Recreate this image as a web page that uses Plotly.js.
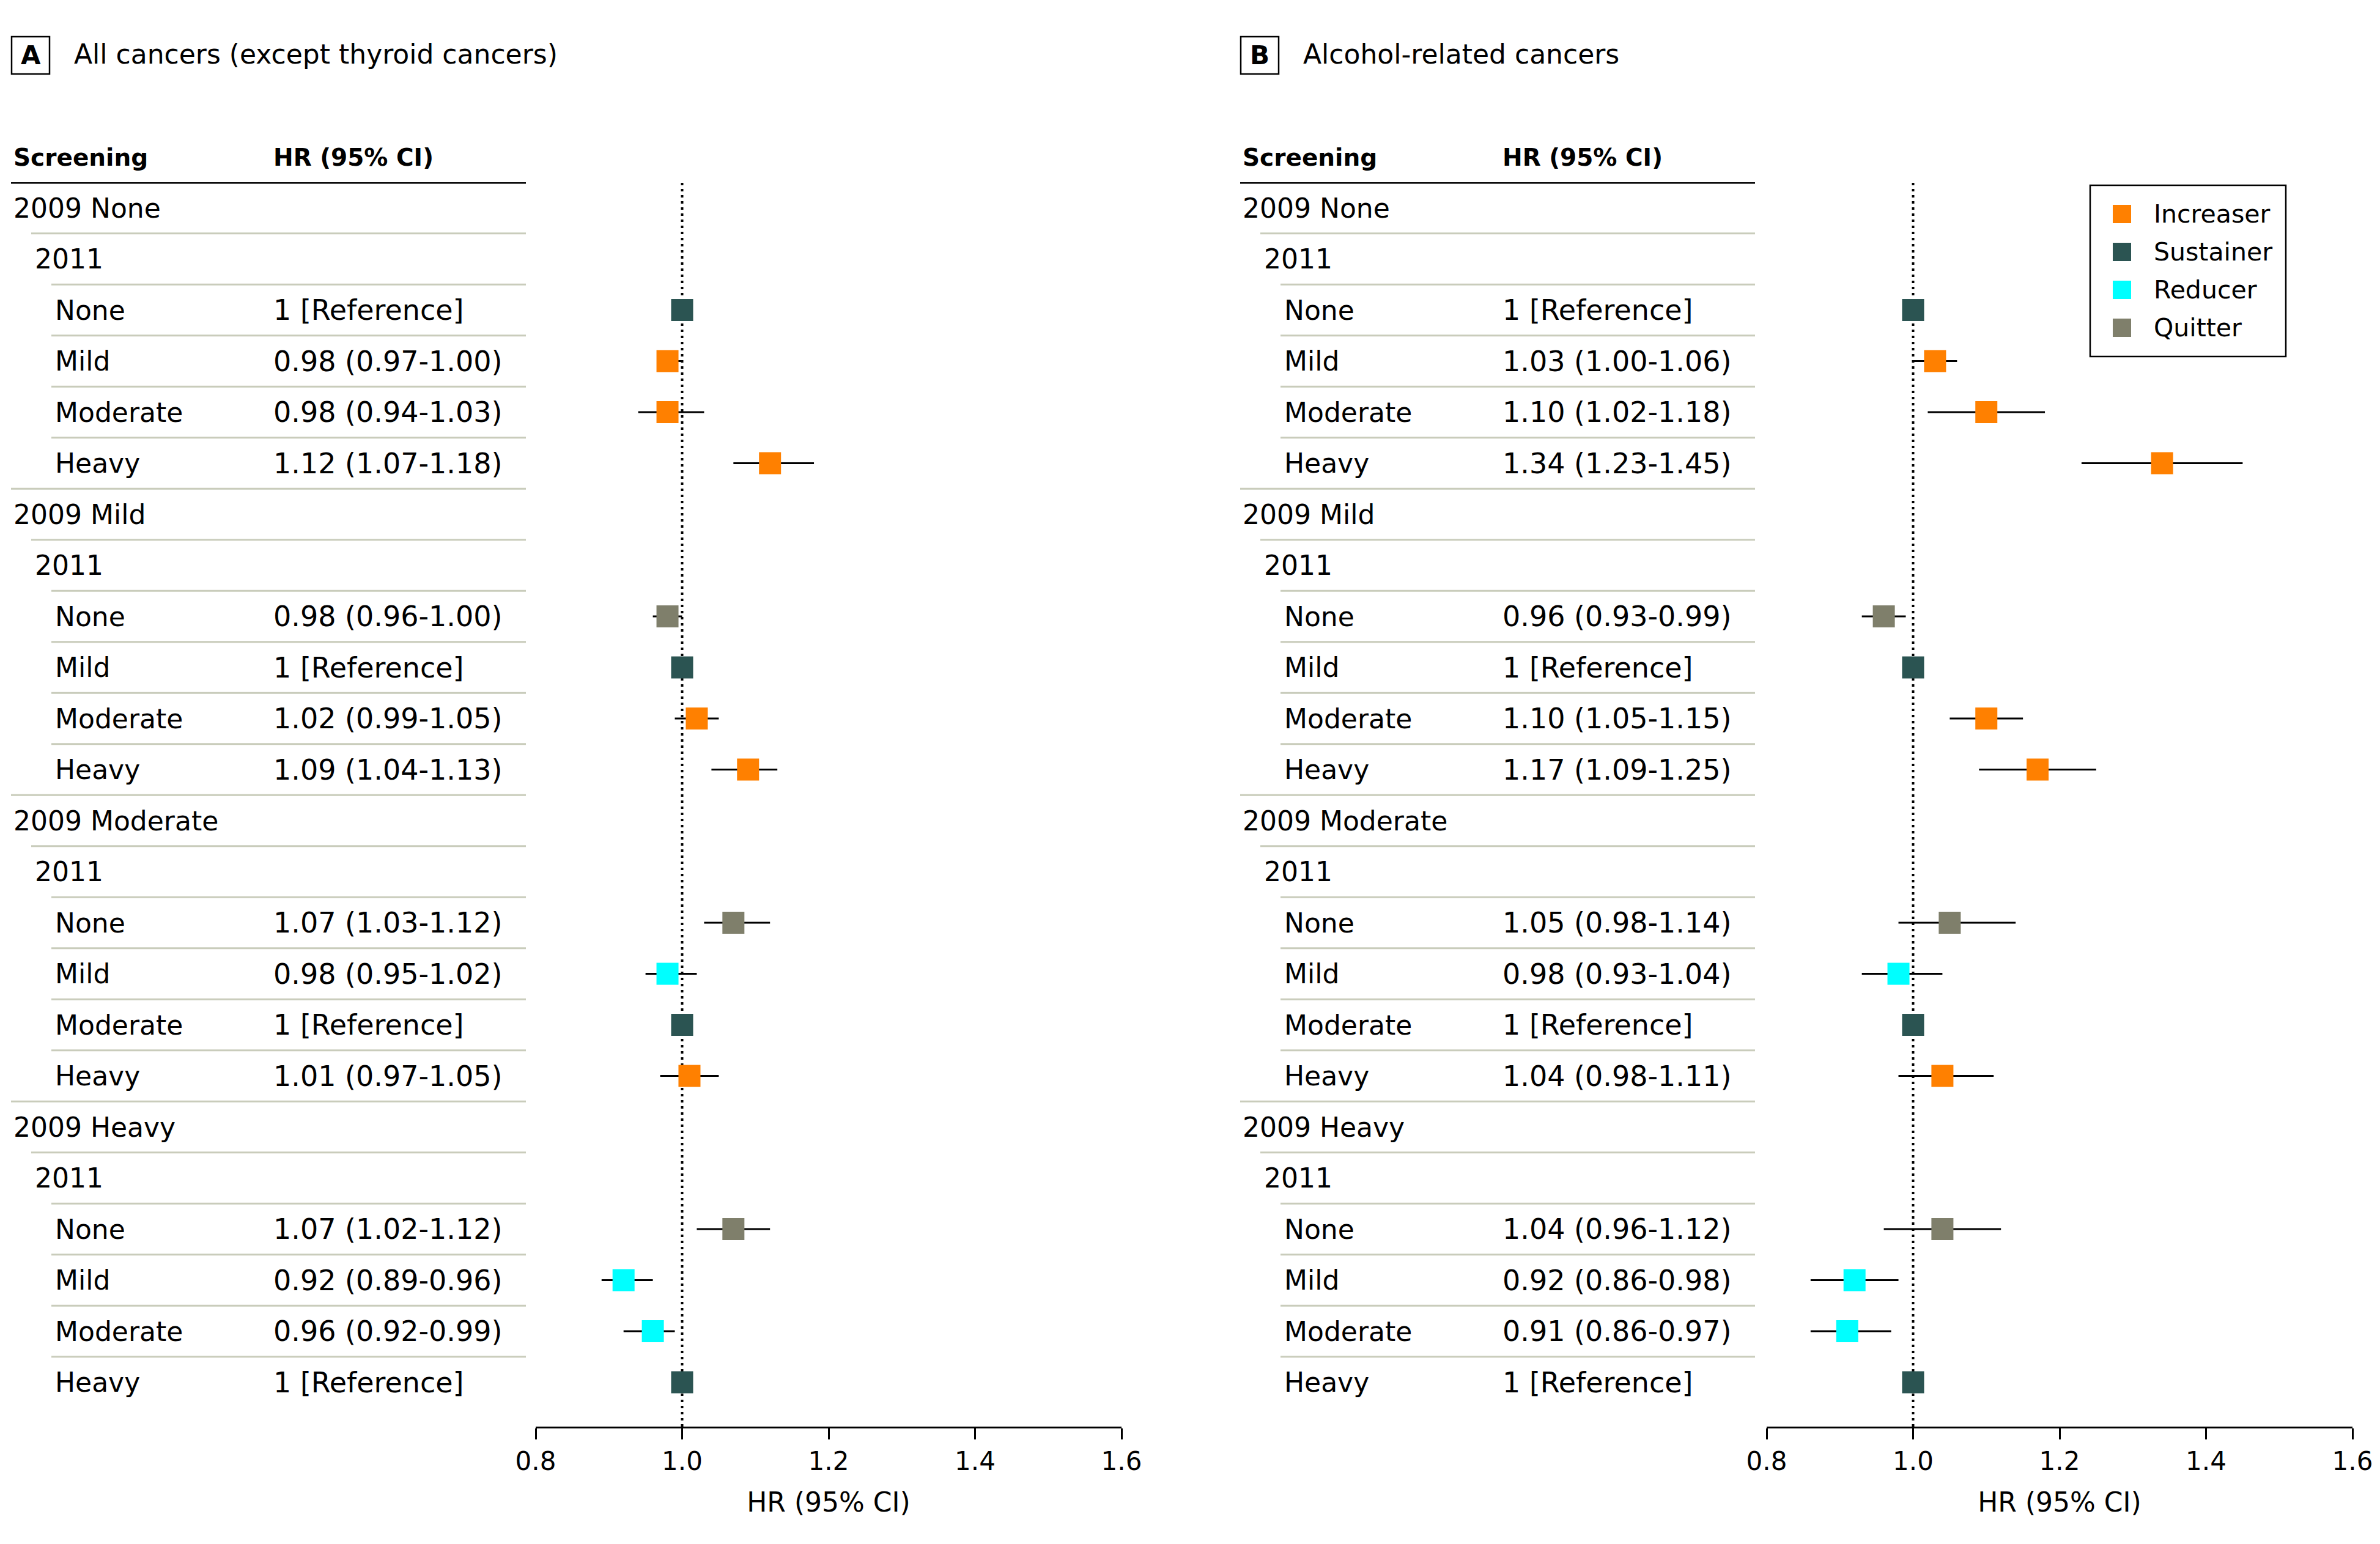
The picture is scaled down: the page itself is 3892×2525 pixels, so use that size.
<!DOCTYPE html>
<html>
<head>
<meta charset="utf-8">
<script src="https://cdn.plot.ly/plotly-3.0.1.min.js"></script>
<style>html,body{margin:0;padding:0;background:#fff;}</style>
</head>
<body>
<div id="chart"></div>
<script>
// ---------------- DATA ----------------
const rowLabels = ['2009 None','2011','None','Mild','Moderate','Heavy',
                   '2009 Mild','2011','None','Mild','Moderate','Heavy',
                   '2009 Moderate','2011','None','Mild','Moderate','Heavy',
                   '2009 Heavy','2011','None','Mild','Moderate','Heavy'];
const rowLevels = [0,1,2,2,2,2, 0,1,2,2,2,2, 0,1,2,2,2,2, 0,1,2,2,2,2];
const rowGroup  = [null,null,'Sustainer','Increaser','Increaser','Increaser',
                   null,null,'Quitter','Sustainer','Increaser','Increaser',
                   null,null,'Quitter','Reducer','Sustainer','Increaser',
                   null,null,'Quitter','Reducer','Reducer','Sustainer'];
const isReference = [false,false,true,false,false,false,
                     false,false,false,true,false,false,
                     false,false,false,false,true,false,
                     false,false,false,false,false,true];

// Panel A: All cancers (except thyroid cancers)
const hrA = [null,null,1,0.98,0.98,1.12, null,null,0.98,1,1.02,1.09, null,null,1.07,0.98,1,1.01, null,null,1.07,0.92,0.96,1];
const loA = [null,null,1,0.97,0.94,1.07, null,null,0.96,1,0.99,1.04, null,null,1.03,0.95,1,0.97, null,null,1.02,0.89,0.92,1];
const hiA = [null,null,1,1.00,1.03,1.18, null,null,1.00,1,1.05,1.13, null,null,1.12,1.02,1,1.05, null,null,1.12,0.96,0.99,1];

// Panel B: Alcohol-related cancers
const hrB = [null,null,1,1.03,1.10,1.34, null,null,0.96,1,1.10,1.17, null,null,1.05,0.98,1,1.04, null,null,1.04,0.92,0.91,1];
const loB = [null,null,1,1.00,1.02,1.23, null,null,0.93,1,1.05,1.09, null,null,0.98,0.93,1,0.98, null,null,0.96,0.86,0.86,1];
const hiB = [null,null,1,1.06,1.18,1.45, null,null,0.99,1,1.15,1.25, null,null,1.14,1.04,1,1.11, null,null,1.12,0.98,0.97,1];

const panelTitles = ['All cancers (except thyroid cancers)','Alcohol-related cancers'];
const panelLetters = ['A','B'];
const headerLabels = ['Screening','HR (95% CI)'];
const categories = ['Increaser','Sustainer','Reducer','Quitter'];
const categoryColors = {Increaser:'#ff8000', Sustainer:'#2b5452', Reducer:'#00ffff', Quitter:'#7f7f6b'};
const tickVals = [0.8,1.0,1.2,1.4,1.6];
const tickText = ['0.8','1.0','1.2','1.4','1.6'];
const axisTitle = 'HR (95% CI)';
const refText = '1 [Reference]';

// ---------------- LAYOUT HELPERS ----------------
const W = 3892, H = 2525;
const FONT = '"DejaVu Sans", Verdana, sans-serif';
const px = v => v / W;
const py = v => 1 - v / H;
const panelOffset = [0, 2010];
const textX = [20, 55, 88];          // text start per indent level
const lineX = [18, 51, 84];          // separator start per indent level
const lineEnd = 860;
const hrColX = 445;

const panels = [
  {hr:hrA, lo:loA, hi:hiA, xa:'x'},
  {hr:hrB, lo:loB, hi:hiB, xa:'x2'}
];

const traces = [];
panels.forEach((p, pi) => {
  categories.forEach(cat => {
    const xs = [], ys = [], ep = [], em = [];
    rowGroup.forEach((g, i) => {
      if (g === cat && p.hr[i] !== null) {
        xs.push(p.hr[i]); ys.push(i);
        ep.push(+(p.hi[i] - p.hr[i]).toFixed(4));
        em.push(+(p.hr[i] - p.lo[i]).toFixed(4));
      }
    });
    traces.push({
      type:'scatter', mode:'markers', name:cat, showlegend:false,
      x:xs, y:ys, xaxis:p.xa, yaxis:'y',
      marker:{symbol:'square', size:36, color:categoryColors[cat], line:{width:0}},
      error_x:{type:'data', symmetric:false, array:ep, arrayminus:em, color:'#000', thickness:3, width:0},
      cliponaxis:false, hoverinfo:'x+y'
    });
  });
});

const shapes = [];
const annotations = [];
const labelFont = {family:FONT, size:44, color:'#000'};
const hrFont = {family:FONT, size:46, color:'#000'};
const headFont = {family:FONT, size:39, color:'#000'};

panels.forEach((p, pi) => {
  const off = panelOffset[pi];
  // panel letter box
  shapes.push({type:'rect', xref:'paper', yref:'paper',
    x0:px(off+19), x1:px(off+81), y0:py(121), y1:py(60),
    line:{color:'#000', width:2.5}, fillcolor:'rgba(0,0,0,0)'});
  annotations.push({xref:'paper', yref:'paper', x:px(off+50), y:py(90), text:'<b>'+panelLetters[pi]+'</b>',
    showarrow:false, xanchor:'center', yanchor:'middle', font:{family:FONT, size:42, color:'#000'}});
  annotations.push({xref:'paper', yref:'paper', x:px(off+119), y:py(88), text:panelTitles[pi],
    showarrow:false, xanchor:'left', yanchor:'middle', font:{family:FONT, size:44, color:'#000'}});
  // header
  annotations.push({xref:'paper', yref:'paper', x:px(off+textX[0]), y:py(258), text:'<b>'+headerLabels[0]+'</b>',
    showarrow:false, xanchor:'left', yanchor:'middle', font:headFont});
  annotations.push({xref:'paper', yref:'paper', x:px(off+hrColX), y:py(258), text:'<b>'+headerLabels[1]+'</b>',
    showarrow:false, xanchor:'left', yanchor:'middle', font:headFont});
  shapes.push({type:'line', xref:'paper', yref:'y', x0:px(off+18), x1:px(off+lineEnd), y0:-0.5, y1:-0.5,
    line:{color:'#000', width:4.5}});
  // rows
  rowLabels.forEach((lab, i) => {
    annotations.push({xref:'paper', yref:'y', x:px(off+textX[rowLevels[i]]), y:i, text:lab,
      showarrow:false, xanchor:'left', yanchor:'middle', font:labelFont});
    if (p.hr[i] !== null) {
      const t = isReference[i] ? refText :
        p.hr[i].toFixed(2) + ' (' + p.lo[i].toFixed(2) + '-' + p.hi[i].toFixed(2) + ')';
      annotations.push({xref:'paper', yref:'y', x:px(off+hrColX), y:i, text:t,
        showarrow:false, xanchor:'left', yanchor:'middle', font:hrFont});
    }
    if (i < rowLabels.length - 1) {
      shapes.push({type:'line', xref:'paper', yref:'y', x0:px(off+lineX[rowLevels[i+1]]), x1:px(off+lineEnd),
        y0:i+0.5, y1:i+0.5, line:{color:'#c9ccbb', width:3}});
    }
  });
  // dotted reference line
  shapes.push({type:'line', xref:p.xa, yref:'y domain', x0:1, x1:1, y0:0, y1:1, layer:'below',
    line:{color:'#000', width:4, dash:'4px,6px'}});
});

// manual legend (panel B)
shapes.push({type:'rect', xref:'paper', yref:'paper', x0:px(3418), x1:px(3738), y0:py(583), y1:py(303),
  line:{color:'#000', width:2.5}, fillcolor:'#fff'});
const legendY = [350, 412, 474, 536];
categories.forEach((cat, k) => {
  shapes.push({type:'rect', xref:'paper', yref:'paper', x0:px(3455), x1:px(3485),
    y0:py(legendY[k]+15), y1:py(legendY[k]-15), line:{width:0}, fillcolor:categoryColors[cat]});
  annotations.push({xref:'paper', yref:'paper', x:px(3520), y:py(legendY[k]), text:cat,
    showarrow:false, xanchor:'left', yanchor:'middle', font:{family:FONT, size:41, color:'#000'}});
});

const xaxisBase = {
  range:[0.8,1.6], anchor:'y', tickvals:tickVals, ticktext:tickText,
  showline:true, linecolor:'#000', linewidth:3, ticks:'outside', ticklen:18, tickwidth:3, tickcolor:'#000',
  showgrid:false, zeroline:false, fixedrange:true,
  tickfont:{family:FONT, size:42, color:'#000'},
  title:{text:axisTitle, font:{family:FONT, size:44, color:'#000'}, standoff:28}
};

const layout = {
  width:W, height:H, margin:{l:0, r:0, t:0, b:0, pad:0},
  paper_bgcolor:'#fff', plot_bgcolor:'#fff', showlegend:false,
  font:{family:FONT, color:'#000'},
  xaxis:Object.assign({}, xaxisBase, {domain:[px(876), px(1834)]}),
  xaxis2:Object.assign({}, xaxisBase, {domain:[px(2889), px(3847)]}),
  yaxis:{domain:[py(2333), py(298)], range:[23.868, -0.503], visible:false, fixedrange:true},
  shapes:shapes, annotations:annotations
};

Plotly.newPlot('chart', traces, layout, {displayModeBar:false, staticPlot:true});
</script>
</body>
</html>
